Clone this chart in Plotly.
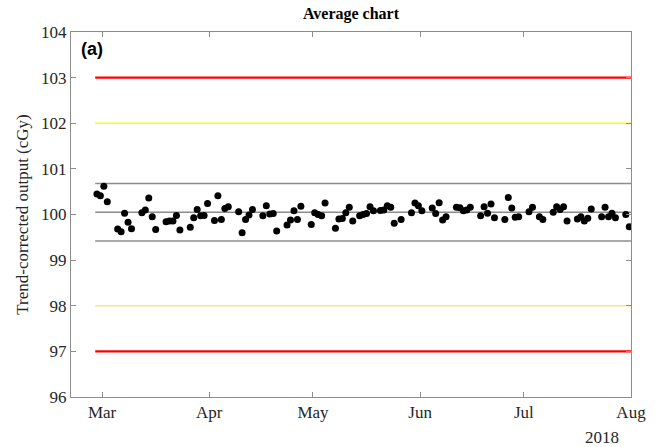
import plotly.graph_objects as go

dates = [
    "2018-02-27", "2018-02-28", "2018-03-01", "2018-03-02",
    "2018-03-05", "2018-03-06", "2018-03-07", "2018-03-08", "2018-03-09",
    "2018-03-12", "2018-03-13", "2018-03-14", "2018-03-15", "2018-03-16",
    "2018-03-19", "2018-03-20", "2018-03-21", "2018-03-22", "2018-03-23",
    "2018-03-26", "2018-03-27", "2018-03-28", "2018-03-29", "2018-03-30", "2018-03-31",
    "2018-04-02", "2018-04-03", "2018-04-04", "2018-04-05", "2018-04-06",
    "2018-04-09", "2018-04-10", "2018-04-11", "2018-04-12", "2018-04-13",
    "2018-04-16", "2018-04-17", "2018-04-18", "2018-04-19", "2018-04-20",
    "2018-04-23", "2018-04-24", "2018-04-25", "2018-04-26", "2018-04-27",
    "2018-04-30", "2018-05-01", "2018-05-02", "2018-05-03", "2018-05-04",
    "2018-05-07", "2018-05-08", "2018-05-09", "2018-05-10", "2018-05-11", "2018-05-12",
    "2018-05-14", "2018-05-15", "2018-05-16", "2018-05-17", "2018-05-18",
    "2018-05-20", "2018-05-21", "2018-05-22", "2018-05-23", "2018-05-24", "2018-05-26",
    "2018-05-29", "2018-05-30", "2018-05-31", "2018-06-01",
    "2018-06-04", "2018-06-05", "2018-06-06", "2018-06-07", "2018-06-08",
    "2018-06-11", "2018-06-12", "2018-06-13", "2018-06-14", "2018-06-15",
    "2018-06-18", "2018-06-19", "2018-06-20", "2018-06-21", "2018-06-22",
    "2018-06-25", "2018-06-26", "2018-06-27", "2018-06-28", "2018-06-29",
    "2018-07-02", "2018-07-03", "2018-07-05", "2018-07-06",
    "2018-07-09", "2018-07-10", "2018-07-11", "2018-07-12", "2018-07-13",
    "2018-07-16", "2018-07-17", "2018-07-18", "2018-07-19", "2018-07-20",
    "2018-07-23", "2018-07-24", "2018-07-25", "2018-07-26", "2018-07-27",
    "2018-07-30", "2018-07-31",
]
output = [
    100.45, 100.41, 100.62, 100.28,
    99.68, 99.62, 100.03, 99.83, 99.69,
    100.04, 100.10, 100.36, 99.95, 99.67,
    99.84, 99.86, 99.86, 99.98, 99.66,
    99.72, 99.93, 100.11, 99.97, 99.98, 100.24,
    99.87, 100.41, 99.89, 100.13, 100.17,
    100.06, 99.60, 99.89, 99.99, 100.11,
    99.97, 100.19, 100.01, 100.02, 99.64,
    99.77, 99.88, 100.08, 99.89, 100.18,
    99.78, 100.04, 100.00, 99.97, 100.25,
    99.70, 99.90, 99.91, 100.04, 100.16, 99.86,
    99.97, 100.00, 100.02, 100.17, 100.08,
    100.09, 100.10, 100.19, 100.16, 99.81, 99.89,
    100.04, 100.25, 100.19, 100.08,
    100.14, 100.02, 100.26, 99.88, 99.95,
    100.16, 100.15, 100.08, 100.10, 100.16,
    99.97, 100.17, 100.03, 100.23, 99.93,
    99.89, 100.37, 100.14, 99.94, 99.95,
    100.06, 100.16, 99.95, 99.89,
    100.05, 100.17, 100.11, 100.17, 99.86,
    99.90, 99.95, 99.86, 99.92, 100.12,
    99.95, 100.16, 99.95, 100.03, 99.93,
    100.00, 99.73,
]

line_start = "2018-02-27"
line_end = "2018-08-01"
center_line = 100.05
ucl = 100.68
lcl = 99.42
action_limits = [103.0, 97.0]
warn_upper = 102.0
warn_lower = 98.0

x_range = ["2018-02-20", "2018-08-01"]
tick_dates = ["2018-03-01", "2018-04-01", "2018-05-01", "2018-06-01", "2018-07-01", "2018-08-01"]
tick_labels = ["Mar", "Apr", "May", "Jun", "Jul", "Aug"]
y_ticks = [96, 97, 98, 99, 100, 101, 102, 103, 104]

fig = go.Figure()

def hline(y, color, width):
    fig.add_trace(go.Scatter(x=[line_start, line_end], y=[y, y], mode="lines",
                             line=dict(color=color, width=width),
                             showlegend=False, hoverinfo="skip"))

for y in action_limits:
    hline(y, "#ff0000", 2.2)
hline(warn_upper, "#ffff00", 1.6)
hline(warn_lower, "#ffe38a", 1.6)
for y in [ucl, center_line, lcl]:
    hline(y, "#8c8c8c", 1.5)

fig.add_trace(go.Scatter(
    x=[d + " 12:00" for d in dates], y=output, mode="markers",
    marker=dict(color="black", size=7), showlegend=False))

serif = "Liberation Serif, Times New Roman, serif"
axis_col = "#8c8c8c"

fig.update_layout(
    width=662, height=447,
    margin=dict(l=71, r=31, t=32, b=50),
    paper_bgcolor="white", plot_bgcolor="white",
    title=dict(text="<b>Average chart</b>", x=0.5, xanchor="center",
               xref="paper", y=1, yref="container", yanchor="top",
               pad=dict(t=8), font=dict(family=serif, size=16, color="black")),
    xaxis=dict(type="date", range=x_range, tickvals=tick_dates, ticktext=tick_labels,
               ticks="inside", ticklen=5, tickcolor=axis_col, showgrid=False,
               showline=True, linecolor=axis_col, linewidth=1, mirror="ticks",
               zeroline=False, tickfont=dict(family=serif, size=17, color="#262626")),
    yaxis=dict(range=[96, 104], tickvals=y_ticks, ticks="inside", ticklen=5,
               tickcolor=axis_col, showgrid=False, showline=True, linecolor=axis_col,
               linewidth=1, mirror="ticks", zeroline=False,
               tickfont=dict(family=serif, size=17, color="#262626"),
               title=dict(text="Trend-corrected output (cGy)", standoff=8,
                          font=dict(family=serif, size=17, color="#262626"))),
    annotations=[
        dict(text="<b>(a)</b>", xref="paper", yref="paper", x=0.015, y=0.985,
             xanchor="left", yanchor="top", showarrow=False,
             font=dict(family="Liberation Sans, Arial, sans-serif", size=18, color="black")),
        dict(text="2018", xref="paper", yref="paper", x=1.0, y=0, yshift=-29, xshift=-10,
             xanchor="right", yanchor="top", showarrow=False,
             font=dict(family=serif, size=17, color="#262626")),
    ],
)

fig.write_html("out.html")
